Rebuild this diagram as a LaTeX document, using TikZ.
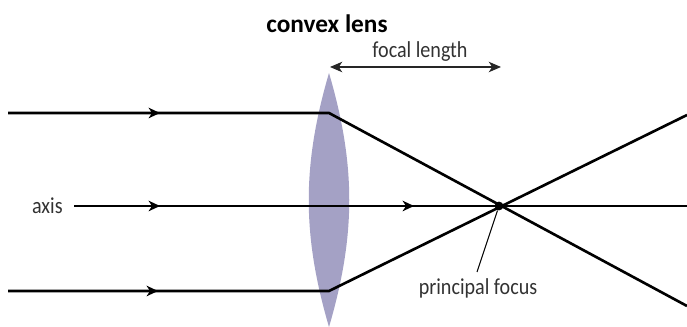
\documentclass[tikz,border=0pt]{standalone}
\usepackage{fontspec}
\setmainfont[FakeStretch=0.88, BoldFeatures={FakeStretch=1.0}]{Carlito}
\usetikzlibrary{arrows.meta}

\definecolor{lensblue}{RGB}{164,161,197}
\definecolor{labelgray}{RGB}{50,50,50}

\tikzset{
  ray/.style={line width=1.5pt, black},
  rayarrow/.style={ray, -{Stealth[length=6.5pt, width=6pt, inset=2pt]}},
  dimline/.style={line width=0.7pt, black!85, {Stealth[length=7pt, width=6pt, inset=2pt]}-{Stealth[length=7pt, width=6pt, inset=2pt]}},
  leader/.style={line width=0.6pt, black},
  label/.style={font=\fontsize{13}{15}\selectfont, text=labelgray, inner sep=0pt}
}

\begin{document}
\begin{tikzpicture}[x=0.02cm, y=-0.02cm]
\useasboundingbox (0, 0) rectangle (687, 327);

% Lens
\fill[lensblue] (329, 73) .. controls (302, 165) and (302, 235) .. (329, 327)
  .. controls (356, 235) and (356, 165) .. (329, 73);

% Points on the rays
\coordinate (topstart) at (8, 113);
\coordinate (topmark) at (160, 113);
\coordinate (toplens) at (329, 113);
\coordinate (topend) at (687, 306);
\coordinate (axisstart) at (74, 206);
\coordinate (axismark) at (160, 206);
\coordinate (axismarktwo) at (414, 206);
\coordinate (axisend) at (687, 206);
\coordinate (botstart) at (8, 291);
\coordinate (botmark) at (158, 291);
\coordinate (botlens) at (329, 291);
\coordinate (botend) at (687, 115);
\coordinate (focalleft) at (330, 67);
\coordinate (focalright) at (501, 67);

% Labels
\node[label, font=\fontsize{14.4}{16}\selectfont\bfseries, text=black] (lenslabel) at (327, 24) {convex lens};
\node[label] (focallabel) at (420, 52) {focal length};
\node[label, anchor=east] (axislabel) at (63, 206) {axis};
\node[label] (focuslabel) at (478, 288) {principal focus};

% Focus dot
\node[circle, fill=black, minimum size=5pt, inner sep=0pt] (focus) at (499, 206) {};

% Rays
\draw[ray] (topstart) -- (toplens) -- (topend);
\draw[rayarrow] (topstart) -- (topmark);
\draw[ray] (axisstart) -- (axisend);
\draw[rayarrow] (axisstart) -- (axismark);
\draw[rayarrow] (axismark) -- (axismarktwo);
\draw[ray] (botstart) -- (botlens) -- (botend);
\draw[rayarrow] (botstart) -- (botmark);

% Focal length
\draw[dimline] (focalleft) -- (focalright);

% Leader
\draw[leader] (focus) -- (477, 272);

\end{tikzpicture}
\end{document}
